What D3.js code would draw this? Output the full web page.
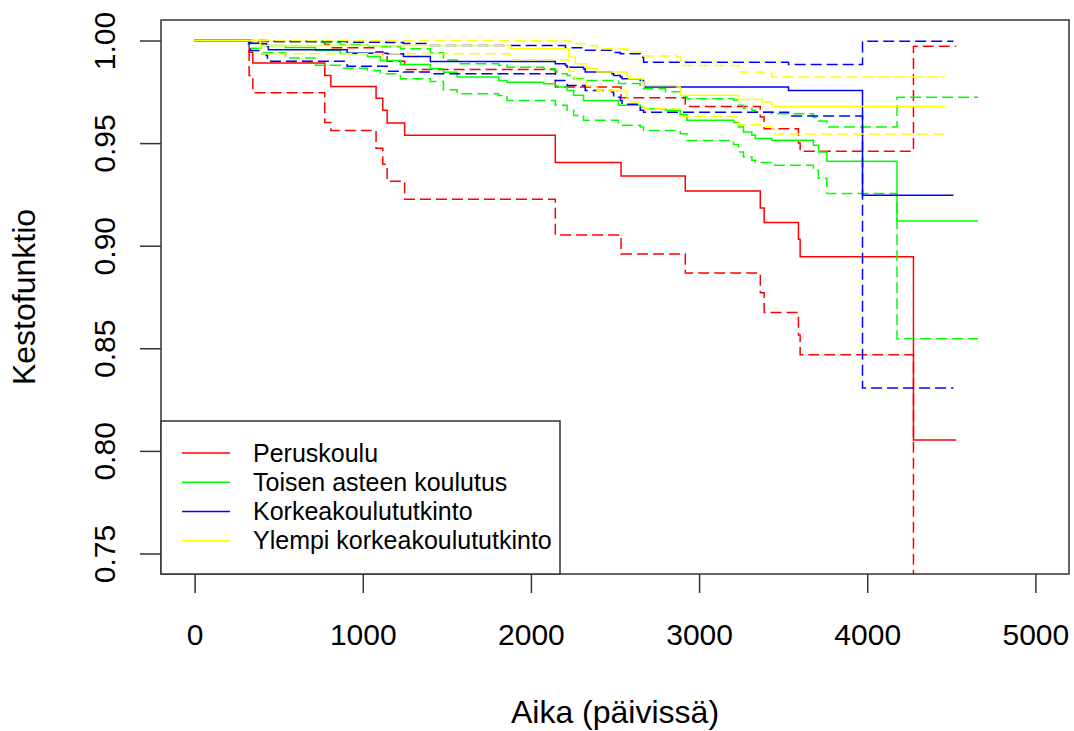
<!DOCTYPE html>
<html>
<head>
<meta charset="utf-8">
<script src="https://cdn.jsdelivr.net/npm/d3@7"></script>
<style>
  body { margin: 0; background: #fff; }
  svg { display: block; }
  text { font-family: "Liberation Sans", Arial, sans-serif; fill: #000; }
</style>
</head>
<body>
<svg id="chart" width="1074" height="731"></svg>
<script>
// ---------------- DATA ----------------
const groups = ["Peruskoulu", "Toisen asteen koulutus", "Korkeakoulututkinto", "Ylempi korkeakoulututkinto"];
const groupColors = ["#FF0000", "#00FF00", "#0000FF", "#FFFF00"];
const xTicks = [0, 1000, 2000, 3000, 4000, 5000];
const yTicks = [0.75, 0.80, 0.85, 0.90, 0.95, 1.00];

// Peruskoulu
const peruTime  = [324, 346, 774, 810, 1079, 1119, 1145, 1249, 2145, 2536, 2918, 3364, 3387, 3591, 3601, 4275];
const peruSurv  = [0.9943, 0.9890, 0.9830, 0.9776, 0.9719, 0.9660, 0.9598, 0.9538, 0.9405, 0.9340, 0.9266, 0.9184, 0.9113, 0.9032, 0.8946, 0.8053];
const peruLower = [0.9830, 0.9746, 0.9600, 0.9562, 0.9475, 0.9397, 0.9314, 0.9227, 0.9052, 0.8959, 0.8867, 0.8771, 0.8674, 0.8565, 0.8468, 0.0];
const peruUpper = [1.0, 0.9995, 0.9980, 0.9965, 0.9945, 0.9920, 0.9899, 0.9859, 0.9773, 0.9721, 0.9679, 0.9627, 0.9570, 0.9500, 0.9460, 0.9972];
const peruEnd = 4529;

// Toisen asteen koulutus
const toisTime  = [320, 332, 404, 540, 719, 867, 1028, 1105, 1224, 1402, 1480, 1561, 1808, 1858, 2076, 2145, 2155, 2215, 2254, 2313, 2521, 2650, 2670, 2800, 2888, 2928, 3205, 3235, 3264, 3314, 3334, 3433, 3680, 3710, 3760, 4177];
const toisSurv  = [0.9995, 0.9985, 0.9976, 0.9966, 0.9951, 0.9937, 0.9922, 0.9903, 0.9883, 0.9862, 0.9845, 0.9822, 0.9805, 0.9797, 0.9789, 0.9781, 0.9773, 0.9757, 0.9733, 0.9708, 0.9684, 0.9676, 0.9668, 0.9660, 0.9640, 0.9611, 0.9600, 0.9578, 0.9554, 0.9538, 0.9522, 0.9514, 0.9489, 0.9457, 0.9411, 0.9120];
const toisLower = [0.9967, 0.9962, 0.9940, 0.9915, 0.9880, 0.9865, 0.9854, 0.9838, 0.9814, 0.9800, 0.9760, 0.9740, 0.9732, 0.9708, 0.9708, 0.9684, 0.9684, 0.9660, 0.9635, 0.9611, 0.9587, 0.9578, 0.9562, 0.9562, 0.9546, 0.9513, 0.9493, 0.9457, 0.9432, 0.9416, 0.9405, 0.9392, 0.9368, 0.9329, 0.9254, 0.8546];
const toisUpper = [1.0, 1.0, 0.9999, 0.9995, 0.9990, 0.9980, 0.9975, 0.9970, 0.9960, 0.9940, 0.9905, 0.9887, 0.9880, 0.9870, 0.9862, 0.9854, 0.9838, 0.9830, 0.9814, 0.9805, 0.9790, 0.9773, 0.9765, 0.9750, 0.9730, 0.9716, 0.9710, 0.9684, 0.9670, 0.9660, 0.9652, 0.9643, 0.9625, 0.9608, 0.9578, 0.9724];
const toisEnd = 4659;

// Korkeakoulututkinto
const korkTime  = [324, 332, 392, 427, 433, 439, 907, 1145, 1242, 1402, 2145, 2205, 2215, 2313, 2323, 2482, 2492, 2532, 2542, 2650, 2670, 2680, 3532, 3972];
const korkSurv  = [0.9992, 0.9987, 0.9984, 0.9976, 0.9971, 0.9955, 0.9938, 0.9935, 0.9922, 0.9898, 0.9887, 0.9878, 0.9870, 0.9862, 0.9846, 0.9838, 0.9830, 0.9822, 0.9814, 0.9805, 0.9781, 0.9773, 0.9757, 0.9246];
const korkLower = [0.9960, 0.9951, 0.9935, 0.9927, 0.9910, 0.9899, 0.9875, 0.9850, 0.9846, 0.9838, 0.9805, 0.9805, 0.9781, 0.9781, 0.9757, 0.9749, 0.9724, 0.9708, 0.9690, 0.9660, 0.9651, 0.9651, 0.9632, 0.8306];
const korkUpper = [1.0, 1.0, 1.0, 0.9999, 0.9998, 0.9995, 0.9992, 0.9990, 0.9985, 0.9976, 0.9976, 0.9965, 0.9965, 0.9952, 0.9952, 0.9941, 0.9941, 0.9936, 0.9936, 0.9919, 0.9894, 0.9894, 0.9883, 0.9997];
const korkEnd = 4513;

// Ylempi korkeakoulututkinto
const ylemTime  = [391, 1878, 2224, 2264, 2330, 2393, 2571, 2581, 2660, 2670, 2870, 2888, 3235, 3374, 3433];
const ylemSurv  = [0.9976, 0.9960, 0.9920, 0.9887, 0.9865, 0.9846, 0.9830, 0.9814, 0.9797, 0.9781, 0.9773, 0.9733, 0.9712, 0.9700, 0.9679];
const ylemLower = [0.9935, 0.9906, 0.9850, 0.9810, 0.9780, 0.9755, 0.9710, 0.9700, 0.9680, 0.9668, 0.9665, 0.9630, 0.9590, 0.9580, 0.9545];
const ylemUpper = [1.0, 1.0, 0.9995, 0.9984, 0.9975, 0.9960, 0.9950, 0.9945, 0.9935, 0.9925, 0.9920, 0.9878, 0.9846, 0.9841, 0.9822];
const ylemEnd = 4463;

// ---------------- CHART ----------------
const svg = d3.select("#chart");
svg.append("rect").attr("width", 1074).attr("height", 731).attr("fill", "#fff");

const plot = { left: 161, top: 20, right: 1069, bottom: 574 };
const x = d3.scaleLinear().domain([-200, 5200]).range([plot.left, plot.right]);
const y = d3.scaleLinear().domain([0.74, 1.01]).range([plot.bottom, plot.top]);

svg.append("clipPath").attr("id", "clip")
  .append("rect").attr("x", plot.left).attr("y", plot.top)
  .attr("width", plot.right - plot.left).attr("height", plot.bottom - plot.top);

const series = [
  { time: peruTime, surv: peruSurv, lower: peruLower, upper: peruUpper, end: peruEnd },
  { time: toisTime, surv: toisSurv, lower: toisLower, upper: toisUpper, end: toisEnd },
  { time: korkTime, surv: korkSurv, lower: korkLower, upper: korkUpper, end: korkEnd },
  { time: ylemTime, surv: ylemSurv, lower: ylemLower, upper: ylemUpper, end: ylemEnd }
];

const line = d3.line().x(d => x(d[0])).y(d => y(d[1])).curve(d3.curveStepAfter);
function stepPoints(time, vals, end) {
  const pts = [[0, 1]];
  time.forEach((t, i) => pts.push([t, vals[i]]));
  pts.push([end, vals[vals.length - 1]]);
  return pts;
}

const g = svg.append("g").attr("clip-path", "url(#clip)");
series.forEach((s, i) => {
  const col = groupColors[i];
  [s.lower, s.upper].forEach(v => {
    g.append("path").attr("d", line(stepPoints(s.time, v, s.end)))
      .attr("fill", "none").attr("stroke", col).attr("stroke-width", 1.5)
      .attr("stroke-dasharray", "11,5");
  });
  g.append("path").attr("d", line(stepPoints(s.time, s.surv, s.end)))
    .attr("fill", "none").attr("stroke", col).attr("stroke-width", 1.5);
});

// Axes
const xAxis = svg.append("g").attr("transform", `translate(0,${plot.bottom})`)
  .call(d3.axisBottom(x).tickValues(xTicks).tickSize(19).tickFormat(d3.format("d")));
xAxis.select(".domain").remove();
xAxis.selectAll(".tick line").attr("stroke", "#333").attr("stroke-width", 1.5);
xAxis.selectAll(".tick text").attr("y", 71).attr("dy", 0)
  .style("font-size", "30px").style("font-family", "'Liberation Sans', Arial, sans-serif").attr("fill", "#000");

const yAxis = svg.append("g").attr("transform", `translate(${plot.left},0)`)
  .call(d3.axisLeft(y).tickValues(yTicks).tickSize(21).tickFormat(d3.format(".2f")));
yAxis.select(".domain").remove();
yAxis.selectAll(".tick line").attr("stroke", "#333").attr("stroke-width", 1.5);
yAxis.selectAll(".tick text")
  .attr("transform", "rotate(-90)").attr("x", 0).attr("y", -46).attr("dy", 0)
  .attr("text-anchor", "middle")
  .style("font-size", "30px").style("font-family", "'Liberation Sans', Arial, sans-serif").attr("fill", "#000");

// Box
svg.append("rect").attr("x", plot.left).attr("y", plot.top)
  .attr("width", plot.right - plot.left).attr("height", plot.bottom - plot.top)
  .attr("fill", "none").attr("stroke", "#333").attr("stroke-width", 1.5);

// Titles
svg.append("text").attr("x", (plot.left + plot.right) / 2).attr("y", 723)
  .attr("text-anchor", "middle").style("font-size", "32px").text("Aika (päivissä)");
svg.append("text").attr("transform", `translate(35,${(plot.top + plot.bottom) / 2}) rotate(-90)`)
  .attr("text-anchor", "middle").style("font-size", "32px").text("Kestofunktio");

// Legend
const leg = svg.append("g");
leg.append("rect").attr("x", plot.left).attr("y", 421).attr("width", 560 - plot.left).attr("height", plot.bottom - 421)
  .attr("fill", "#fff").attr("stroke", "#333").attr("stroke-width", 1.5);
groups.forEach((name, i) => {
  const yy = 453 + i * 29.2;
  leg.append("line").attr("x1", 182).attr("x2", 230).attr("y1", yy).attr("y2", yy)
    .attr("stroke", groupColors[i]).attr("stroke-width", 1.5);
  leg.append("text").attr("x", 253).attr("y", yy).attr("dy", "0.35em")
    .style("font-size", "25px").text(name);
});
</script>
</body>
</html>
